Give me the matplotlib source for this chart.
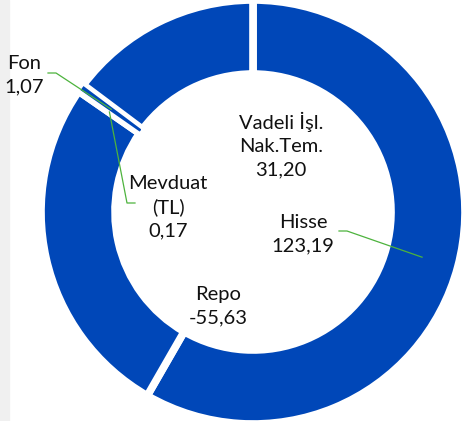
import numpy as np
import matplotlib
matplotlib.use("Agg")
import matplotlib.pyplot as plt
from matplotlib.patches import Rectangle

# veriler
kategoriler = ['Hisse', 'Repo', 'Mevduat\n(TL)', 'Fon', 'Vadeli İşl.\nNak.Tem.']
degerler = [123.19, -55.63, 0.17, 1.07, 31.20]

# etiket konumlari (piksel), dirsek noktalari
etiket_xy = [(303, 234), (218, 306), (168, 207), (24, 75), (281, 145)]
dirsek = [(347, 231), None, (127, 203), (56, 73), None]
metin_ucu = [(339, 231), None, (135, 203), (48, 73), None]

mavi = '#0047B8'
yesil = '#4DB33D'

fig = plt.figure(figsize=(4.62, 4.21), dpi=100)
fig.add_artist(Rectangle((0, 0), 9 / 462, 1, transform=fig.transFigure,
                         color='#F0F0F0', zorder=0))
ax = fig.add_axes([0, 0, 1, 1])
ax.patch.set_alpha(0)

merkez = (253, 212)
R = 212
genislik = 74

# y ekseni ters (resim koordinatlari), bu yuzden -90'dan baslayip saat yonunde cizer
wedges, _ = ax.pie(np.abs(degerler), startangle=-90, counterclock=True,
                   center=merkez, radius=R, colors=[mavi] * len(degerler),
                   wedgeprops=dict(width=genislik, edgecolor='white', linewidth=5.5))

# ince Fon dilimi ustte kalsin
wedges[3].set_zorder(3)
wedges[3].set_linewidth(1.2)

r_orta = R - genislik / 2
for i, (w, ad, v) in enumerate(zip(wedges, kategoriler, degerler)):
    metin = ad + '\n' + f'{v:.2f}'.replace('.', ',')
    ax.text(etiket_xy[i][0], etiket_xy[i][1], metin, ha='center', va='center',
            fontsize=14.5, family='Lato', color='#111111', linespacing=1.45, zorder=5)
    if dirsek[i] is not None:
        th = np.deg2rad((w.theta1 + w.theta2) / 2)
        px = merkez[0] + r_orta * np.cos(th)
        py = merkez[1] + r_orta * np.sin(th)
        xs = [metin_ucu[i][0], dirsek[i][0], px]
        ys = [metin_ucu[i][1], dirsek[i][1], py]
        ax.plot(xs, ys, color=yesil, lw=0.9, zorder=6)

ax.set_xlim(0, 462)
ax.set_ylim(421, 0)
ax.set_aspect('auto')
ax.axis('off')

fig.savefig('out.png', dpi=100, facecolor='white')
